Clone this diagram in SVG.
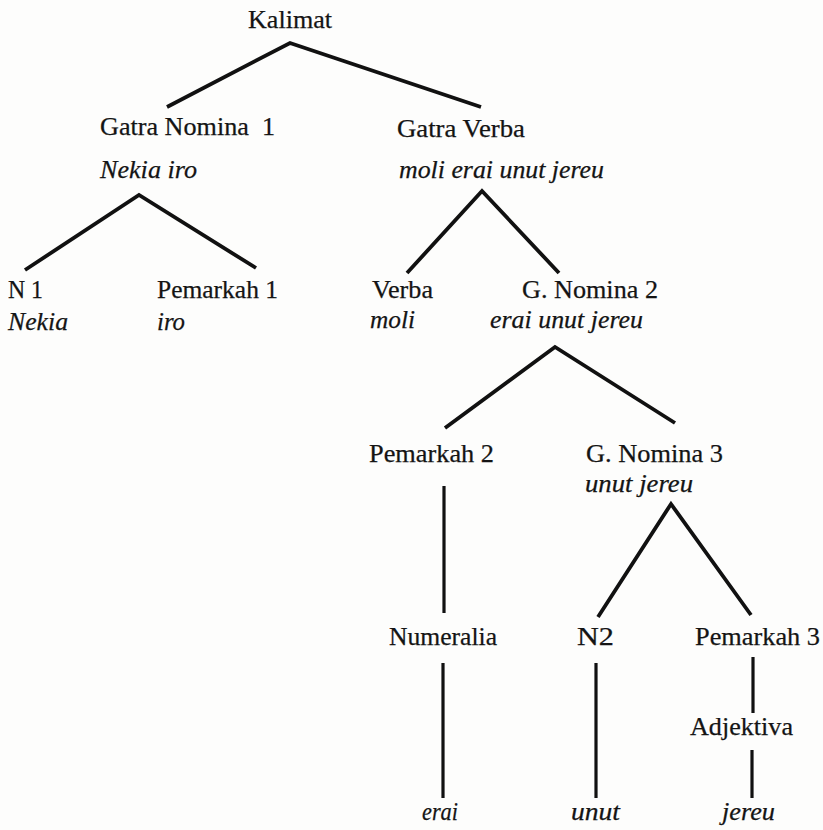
<svg xmlns="http://www.w3.org/2000/svg" width="823" height="830" viewBox="0 0 823 830">
<style>
text{font-family:"Liberation Serif","Times New Roman",serif;font-size:25.5px;fill:#141414;stroke:#141414;stroke-width:0.25}
.i{font-style:italic}
.e{stroke:#111;stroke-width:3.8;stroke-linecap:butt;fill:none}
.v{stroke:#111;stroke-width:3.2;fill:none}
</style>
<rect width="823" height="830" fill="#fdfdfc"/>
<g id="connectors">
<polyline class="e" points="167,107 290,43 481,107"/>
<polyline class="e" points="25,270 139,195 256,268"/>
<polyline class="e" points="407,273 482,191 559,273"/>
<polyline class="e" points="445,428 555,347 675,423"/>
<polyline class="e" points="598,617 671,504 751,615"/>
<line class="v" x1="444" y1="486" x2="444" y2="613"/>
<line class="v" x1="443" y1="663" x2="443" y2="798"/>
<line class="v" x1="596" y1="663" x2="596" y2="798"/>
<line class="v" x1="753" y1="657" x2="753" y2="713"/>
<line class="v" x1="752" y1="750" x2="752" y2="798"/>
</g>
<g id="kalimat"><text x="248" y="28" textLength="84" lengthAdjust="spacingAndGlyphs">Kalimat</text></g>
<g id="gatra-nomina-1">
<text x="100" y="135" textLength="175" lengthAdjust="spacingAndGlyphs" xml:space="preserve">Gatra Nomina  1</text>
<text class="i" x="100" y="178" textLength="97" lengthAdjust="spacingAndGlyphs">Nekia iro</text>
</g>
<g id="gatra-verba">
<text x="397" y="137" textLength="128" lengthAdjust="spacingAndGlyphs">Gatra Verba</text>
<text class="i" x="399" y="178" textLength="205" lengthAdjust="spacingAndGlyphs">moli erai unut jereu</text>
</g>
<g id="n1">
<text x="8" y="298" textLength="35" lengthAdjust="spacingAndGlyphs">N 1</text>
<text class="i" x="8" y="330" textLength="60" lengthAdjust="spacingAndGlyphs">Nekia</text>
</g>
<g id="pemarkah-1">
<text x="157" y="298" textLength="121" lengthAdjust="spacingAndGlyphs">Pemarkah 1</text>
<text class="i" x="157" y="330" textLength="28" lengthAdjust="spacingAndGlyphs">iro</text>
</g>
<g id="verba">
<text x="372" y="298" textLength="61" lengthAdjust="spacingAndGlyphs">Verba</text>
<text class="i" x="370" y="328" textLength="45" lengthAdjust="spacingAndGlyphs">moli</text>
</g>
<g id="g-nomina-2">
<text x="522" y="298" textLength="136" lengthAdjust="spacingAndGlyphs">G. Nomina 2</text>
<text class="i" x="490" y="328" textLength="153" lengthAdjust="spacingAndGlyphs">erai unut jereu</text>
</g>
<g id="pemarkah-2"><text x="369" y="462" textLength="125" lengthAdjust="spacingAndGlyphs">Pemarkah 2</text></g>
<g id="g-nomina-3">
<text x="586" y="462" textLength="137" lengthAdjust="spacingAndGlyphs">G. Nomina 3</text>
<text class="i" x="585" y="492" textLength="108" lengthAdjust="spacingAndGlyphs">unut jereu</text>
</g>
<g id="numeralia"><text x="389" y="645" textLength="108" lengthAdjust="spacingAndGlyphs">Numeralia</text></g>
<g id="n2"><text x="577" y="645" textLength="37" lengthAdjust="spacingAndGlyphs">N2</text></g>
<g id="pemarkah-3"><text x="695" y="645" textLength="125" lengthAdjust="spacingAndGlyphs">Pemarkah 3</text></g>
<g id="adjektiva"><text x="690" y="735" textLength="103" lengthAdjust="spacingAndGlyphs">Adjektiva</text></g>
<g id="erai"><text class="i" x="422" y="820" textLength="36" lengthAdjust="spacingAndGlyphs">erai</text></g>
<g id="unut"><text class="i" x="571" y="820" textLength="49" lengthAdjust="spacingAndGlyphs">unut</text></g>
<g id="jereu"><text class="i" x="722" y="820" textLength="53" lengthAdjust="spacingAndGlyphs">jereu</text></g>
</svg>
